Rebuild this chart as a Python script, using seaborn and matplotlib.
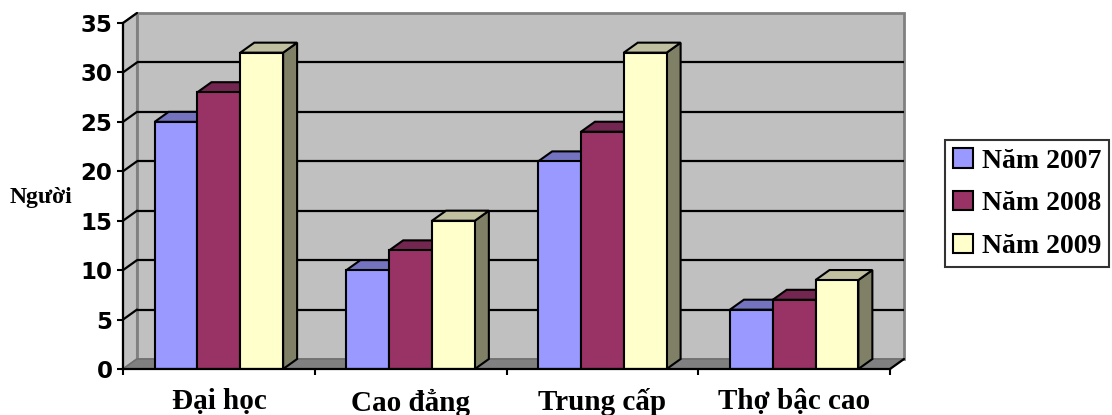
import matplotlib
matplotlib.use("Agg")
import matplotlib.pyplot as plt
import pandas as pd
import seaborn as sns
from matplotlib.patches import Polygon, Patch

# Data: number of people by qualification level and year
categories = ["Đại học", "Cao đẳng", "Trung cấp", "Thợ bậc cao"]
years = ["Năm 2007", "Năm 2008", "Năm 2009"]
values_2007 = [25, 10, 21, 6]
values_2008 = [28, 12, 24, 7]
values_2009 = [32, 15, 32, 9]
y_ticks = [0, 5, 10, 15, 20, 25, 30, 35]
y_label = "Người"

front_colors = ["#9999FF", "#993366", "#FFFFCC"]
top_colors = ["#7373C0", "#732650", "#C0C0A0"]
side_colors = ["#606099", "#5C1F40", "#808066"]

df = pd.DataFrame({
    "category": categories * 3,
    "year": [years[0]] * 4 + [years[1]] * 4 + [years[2]] * 4,
    "value": values_2007 + values_2008 + values_2009,
})

sns.set_theme(style="white")
plt.rcParams["font.family"] = ["DejaVu Sans"]

W, H = 1112, 415
fig = plt.figure(figsize=(W / 100, H / 100), dpi=100)
fig.patch.set_facecolor("white")
ax_left, ax_bottom, ax_w, ax_h = 123, 46, 767, 346
ax = fig.add_axes([ax_left / W, ax_bottom / H, ax_w / W, ax_h / H])
ax.set_facecolor("none")

sns.barplot(data=df, x="category", y="value", hue="year", order=categories,
            hue_order=years, palette=front_colors, width=0.67, saturation=1,
            edgecolor="black", linewidth=1.5, errorbar=None, legend=False,
            ax=ax, zorder=3)

xmin, xmax = -0.5, len(categories) - 0.5
ymin, ymax = 0, 35
ax.set_xlim(xmin, xmax)
ax.set_ylim(ymin, ymax)

# depth of the pseudo-3D box, in data units (14 px right, 10 px up)
dx = 14 / (ax_w / (xmax - xmin))
dy = 10 / (ax_h / (ymax - ymin))

# back wall with gridlines
ax.add_patch(Polygon([(xmin + dx, ymin + dy), (xmax + dx, ymin + dy),
                      (xmax + dx, ymax + dy), (xmin + dx, ymax + dy)],
                     closed=True, fc="#C0C0C0", ec="#808080", lw=2,
                     clip_on=False, zorder=0))
# left wall
ax.add_patch(Polygon([(xmin, ymin), (xmin, ymax), (xmin + dx, ymax + dy),
                      (xmin + dx, ymin + dy)],
                     closed=True, fc="#C0C0C0", ec="#808080", lw=1.5,
                     clip_on=False, zorder=0.2))
for v in y_ticks[1:-1]:
    ax.plot([xmin + dx, xmax + dx], [v + dy, v + dy], color="black", lw=1.6,
            clip_on=False, zorder=0.5, solid_capstyle="butt")
for v in y_ticks[1:]:
    ax.plot([xmin, xmin + dx], [v, v + dy], color="black", lw=1.6,
            clip_on=False, zorder=0.5)
# floor
ax.add_patch(Polygon([(xmin, ymin), (xmax, ymin), (xmax + dx, ymin + dy),
                      (xmin + dx, ymin + dy)],
                     closed=True, fc="#808080", ec="#6E6E6E", lw=1,
                     clip_on=False, zorder=1))
ax.plot([xmax, xmax + dx], [ymin, ymin + dy], color="black", lw=1.6,
        clip_on=False, zorder=1.5)

# tops and right-hand sides of the bars, added left to right
bars = []
for hi, cont in enumerate(ax.containers):
    for p in cont.patches:
        bars.append((p.get_x(), hi, p))
bars.sort(key=lambda t: t[0])
for x0, hi, p in bars:
    w, h = p.get_width(), p.get_height()
    ax.add_patch(Polygon([(x0 + w, 0), (x0 + w + dx, dy), (x0 + w + dx, h + dy),
                          (x0 + w, h)], closed=True, fc=side_colors[hi],
                         ec="black", lw=1.5, joinstyle="miter", clip_on=False,
                         zorder=2))
    ax.add_patch(Polygon([(x0, h), (x0 + w, h), (x0 + w + dx, h + dy),
                          (x0 + dx, h + dy)], closed=True, fc=top_colors[hi],
                         ec="black", lw=1.5, joinstyle="miter", clip_on=False,
                         zorder=2))

# axes, ticks and labels
for side in ["top", "right"]:
    ax.spines[side].set_visible(False)
for side in ["left", "bottom"]:
    ax.spines[side].set_color("black")
    ax.spines[side].set_linewidth(1.6)
    ax.spines[side].set_zorder(4)

ax.set_yticks(y_ticks)
ax.set_yticklabels([str(v) for v in y_ticks], fontsize=16.5, fontweight="bold",
                   family="DejaVu Sans")
ax.tick_params(axis="y", direction="out", length=4.5, width=1.5, pad=3.0,
               colors="black", left=True)
ax.set_xticks(range(len(categories)))
ax.set_xticklabels(categories, fontsize=21, fontweight="bold",
                   family="Liberation Serif")
ax.set_xticks([i - 0.5 for i in range(len(categories) + 1)], minor=True)
ax.tick_params(axis="x", which="major", length=0, pad=14, colors="black")
ax.tick_params(axis="x", which="minor", direction="out", length=4.5, width=1.5,
               colors="black", bottom=True)
ax.set_xlabel("")
ax.set_ylabel("")
ax.grid(False)

fig.text(10 / W, 1 - 197 / H, y_label, ha="left", va="center", fontsize=17,
         fontweight="bold", family="Liberation Serif", color="black")

handles = [Patch(facecolor=c, edgecolor="black", linewidth=1.5) for c in front_colors]
leg = fig.legend(handles, years, loc="upper left",
                 bbox_to_anchor=(945 / W, 1 - 140 / H), frameon=True,
                 fancybox=False, shadow=False, borderpad=0.3,
                 labelspacing=0.62, handlelength=0.72, handleheight=0.7,
                 handletextpad=0.3, borderaxespad=0,
                 prop={"family": "Liberation Serif", "weight": "bold", "size": 20})
leg.get_frame().set_edgecolor("black")
leg.get_frame().set_linewidth(1.5)
for t in leg.get_texts():
    t.set_color("black")

fig.savefig("out.png", dpi=100, facecolor="white")
